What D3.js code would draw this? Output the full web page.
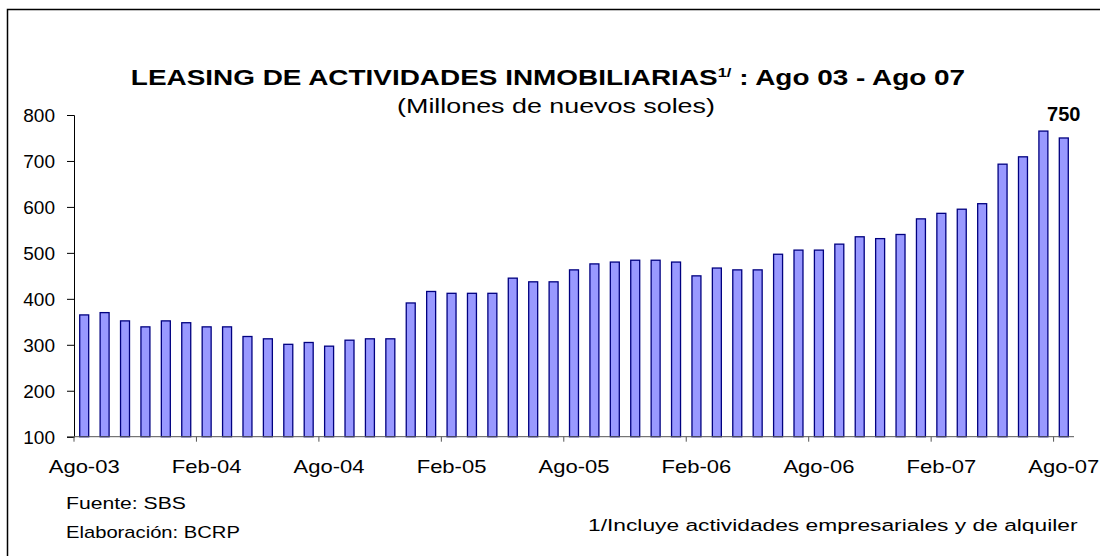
<!DOCTYPE html>
<html>
<head>
<meta charset="utf-8">
<script src="https://cdn.jsdelivr.net/npm/d3@7/dist/d3.min.js"></script>
<style>
  body { margin: 0; background: #fff; }
  text { font-family: "Liberation Sans", Arial, sans-serif; fill: #000; }
</style>
</head>
<body>
<svg id="chart" width="1100" height="556"></svg>
<script>
// monthly categories, Ago-03 .. Ago-07
var months = [
  "Ago-03","Set-03","Oct-03","Nov-03","Dic-03","Ene-04",
  "Feb-04","Mar-04","Abr-04","May-04","Jun-04","Jul-04",
  "Ago-04","Set-04","Oct-04","Nov-04","Dic-04","Ene-05",
  "Feb-05","Mar-05","Abr-05","May-05","Jun-05","Jul-05",
  "Ago-05","Set-05","Oct-05","Nov-05","Dic-05","Ene-06",
  "Feb-06","Mar-06","Abr-06","May-06","Jun-06","Jul-06",
  "Ago-06","Set-06","Oct-06","Nov-06","Dic-06","Ene-07",
  "Feb-07","Mar-07","Abr-07","May-07","Jun-07","Jul-07",
  "Ago-07"
];

// leasing, millones de nuevos soles
var leasing = [
  365, 370, 352, 339, 352, 348,
  339, 339, 318, 313, 301, 305,
  297, 310, 313, 313, 391, 416,
  412, 412, 412, 445, 437, 437,
  463, 476, 480, 484, 484, 480,
  450, 467, 463, 463, 497, 506,
  506, 519, 535, 531, 540, 574,
  586, 595, 607, 693, 709, 765,
  750
];

var yTicks = [100, 200, 300, 400, 500, 600, 700, 800];
var xLabels = months.filter(function (d, i) { return i % 6 === 0; });

var svg = d3.select("#chart");

// frame (right and bottom edges fall outside the picture)
svg.append("rect")
  .attr("x", 7.5).attr("y", 9.5)
  .attr("width", 1110).attr("height", 560)
  .attr("fill", "#fff")
  .attr("stroke", "#000")
  .attr("stroke-width", 1.5);

var pad = 0.56;
var x = d3.scaleBand()
  .domain(months)
  .range([74, 1074])
  .paddingInner(pad)
  .paddingOuter(pad / 2);

var y = d3.scaleLinear()
  .domain([100, 800])
  .range([436.7, 115]);

// bars
svg.append("g").selectAll("rect")
  .data(leasing)
  .enter().append("rect")
  .attr("x", function (d, i) { return x(months[i]); })
  .attr("y", function (d) { return y(d); })
  .attr("width", x.bandwidth())
  .attr("height", function (d) { return y(100) - y(d); })
  .attr("fill", "#9999ff")
  .attr("stroke", "#000080")
  .attr("stroke-width", 1.3);

// y axis
var gy = svg.append("g")
  .attr("transform", "translate(74,0)")
  .call(d3.axisLeft(y).tickValues(yTicks).tickSize(7).tickPadding(12));
gy.select(".domain").attr("stroke", "#000");
gy.selectAll(".tick line").attr("stroke", "#000");
gy.selectAll(".tick text")
  .style("font-size", "19px")
  .attr("dy", "0.35em");

// x axis: labels on every 6th month, tick marks on category boundaries
var half = (x.step() - x.bandwidth()) / 2;
var gx = svg.append("g")
  .attr("transform", "translate(0," + y(100) + ")");
gx.append("line")
  .attr("x1", 74).attr("x2", 1074)
  .attr("stroke", "#555");
gx.selectAll(".tk")
  .data(xLabels)
  .enter().append("line")
  .attr("class", "tk")
  .attr("x1", function (d) { return x(d) - half; })
  .attr("x2", function (d) { return x(d) - half; })
  .attr("y1", 0).attr("y2", 5)
  .attr("stroke", "#555");
gx.selectAll(".lbl")
  .data(xLabels)
  .enter().append("g")
  .attr("transform", function (d) { return "translate(" + (x(d) + x.bandwidth() / 2) + ",36)"; })
  .append("text")
  .attr("text-anchor", "middle")
  .attr("transform", "scale(1.19,1)")
  .style("font-size", "18.5px")
  .text(function (d) { return d; });

// value label on the last bar
var last = months.length - 1;
svg.append("text")
  .attr("x", x(months[last]) + x.bandwidth() / 2)
  .attr("y", y(leasing[last]) - 17)
  .attr("text-anchor", "middle")
  .style("font-size", "20px")
  .style("font-weight", "bold")
  .text(leasing[last]);

// helper: text stretched to a given width
function stretched(cx, by, anchor, width, build) {
  var g = svg.append("g").attr("transform", "translate(" + cx + "," + by + ")");
  var t = g.append("text").attr("text-anchor", anchor);
  build(t);
  var w = t.node().getComputedTextLength();
  t.attr("transform", "scale(" + (width / w) + ",1)");
  return t;
}

stretched(548, 85, "middle", 835, function (t) {
  t.style("font-size", "22px").style("font-weight", "bold");
  t.append("tspan").text("LEASING DE ACTIVIDADES INMOBILIARIAS");
  t.append("tspan").attr("dy", -8).style("font-size", "13px").text("1/");
  t.append("tspan").attr("dy", 8).text(" : Ago 03 - Ago 07");
});

stretched(556, 113, "middle", 318, function (t) {
  t.style("font-size", "21px").text("(Millones de nuevos soles)");
});

stretched(66, 508.5, "start", 120, function (t) {
  t.style("font-size", "17px").text("Fuente: SBS");
});

stretched(66, 538, "start", 174, function (t) {
  t.style("font-size", "17px").text("Elaboración: BCRP");
});

stretched(588, 531, "start", 490, function (t) {
  t.style("font-size", "17px").text("1/Incluye actividades empresariales y de alquiler");
});
</script>
</body>
</html>
